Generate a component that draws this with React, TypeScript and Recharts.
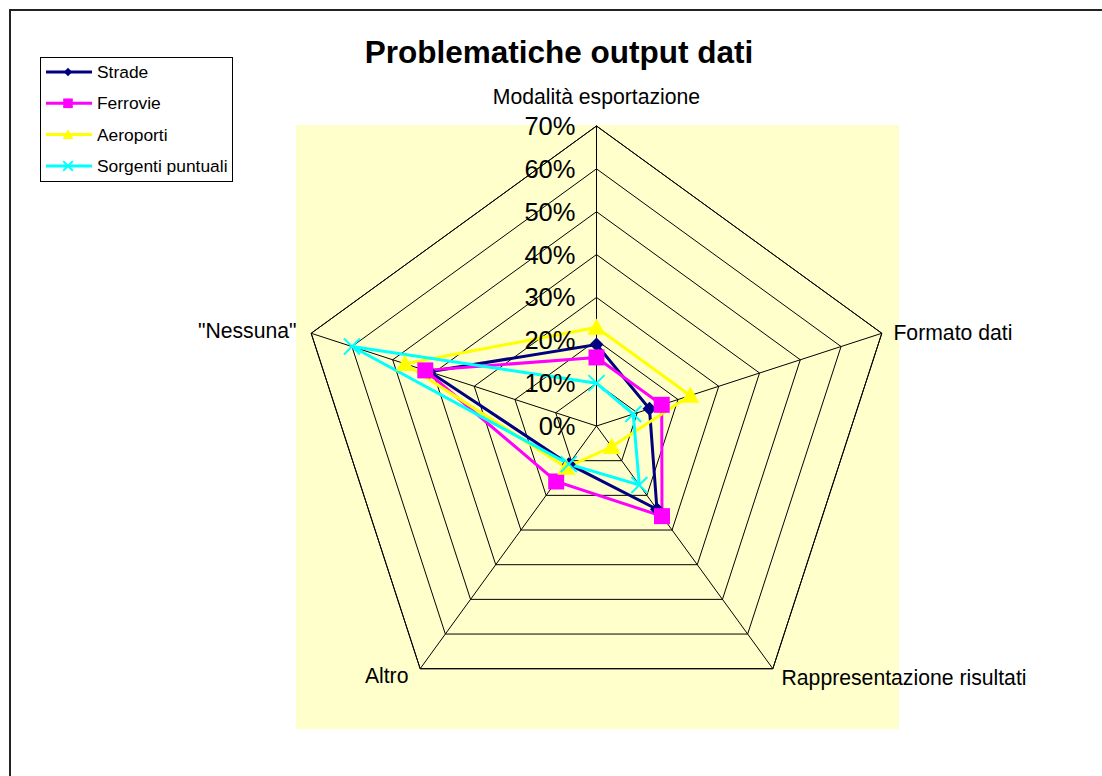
import React from 'react';
import { RadarChart, Radar, PolarGrid, PolarAngleAxis, PolarRadiusAxis, Legend } from 'recharts';

// categories around the radar, clockwise from the top
const categories = [
  'Modalità esportazione',
  'Formato dati',
  'Rappresentazione risultati',
  'Altro',
  '"Nessuna"',
];

// share of answers per category, in percent
const strade = [19, 13, 24, 11, 41];
const ferrovie = [16, 16, 26, 16, 42];
const aeroporti = [23, 23, 6, 12, 47];
const sorgenti = [10, 9, 17, 11, 60];

const radiusTicks = [0, 10, 20, 30, 40, 50, 60, 70];

const seriesNames = ['Strade', 'Ferrovie', 'Aeroporti', 'Sorgenti puntuali'];
const seriesKeys = ['strade', 'ferrovie', 'aeroporti', 'sorgenti'];
const COLORS = ['#000080', '#FF00FF', '#FFFF00', '#00FFFF'];
const MARKERS = ['diamond', 'square', 'triangle', 'cross'];

const data = categories.map((name, i) => ({
  name,
  strade: strade[i],
  ferrovie: ferrovie[i],
  aeroporti: aeroporti[i],
  sorgenti: sorgenti[i],
}));

const FONT = '"Liberation Sans", Arial, sans-serif';

const Marker = ({ type, cx, cy, color, s = 1 }: any) => {
  if (type === 'diamond') {
    const h = 7 * s;
    return <polygon points={`${cx},${cy - h} ${cx + h},${cy} ${cx},${cy + h} ${cx - h},${cy}`} fill={color} />;
  }
  if (type === 'square') {
    const h = 8 * s;
    return <rect x={cx - h} y={cy - h} width={h * 2} height={h * 2} fill={color} />;
  }
  if (type === 'triangle') {
    const h = 9 * s;
    return <polygon points={`${cx},${cy - h} ${cx + h},${cy + h * 0.8} ${cx - h},${cy + h * 0.8}`} fill={color} />;
  }
  const h = 8 * s;
  return (
    <g stroke={color} strokeWidth={2}>
      <line x1={cx - h} y1={cy - h} x2={cx + h} y2={cy + h} />
      <line x1={cx - h} y1={cy + h} x2={cx + h} y2={cy - h} />
    </g>
  );
};

const renderDot = (idx: number) => (props: any) => {
  const { cx, cy, index } = props;
  return <Marker key={`d-${idx}-${index}`} type={MARKERS[idx]} cx={cx} cy={cy} color={COLORS[idx]} />;
};

const renderAngleTick = (props: any) => {
  const { x, y, cx, payload } = props;
  const dx = x - cx;
  let anchor = 'middle';
  let tx = x;
  let ty = y;
  let base: any = 'auto';
  if (Math.abs(dx) < 1) {
    ty = y - 14;
  } else if (dx > 0) {
    anchor = 'start';
    tx = x + 4;
    ty = y + 2;
    base = 'central';
  } else {
    anchor = 'end';
    tx = x - 7;
    ty = y;
    base = 'central';
  }
  return (
    <text x={tx} y={ty} textAnchor={anchor} dominantBaseline={base} fontSize={21.2} fontFamily={FONT} fill="#000">
      {payload.value}
    </text>
  );
};

const renderRadiusTick = (props: any) => {
  const { x, y, payload } = props;
  return (
    <text x={x - 21} y={y} textAnchor="end" dominantBaseline="central" fontSize={25.5} fontFamily={FONT} fill="#000">
      {payload.value}%
    </text>
  );
};

const LegendBox = () => (
  <svg width={194} height={126} style={{ display: 'block' }}>
    <rect x={0.5} y={0.5} width={192} height={124} fill="#fff" stroke="#000" strokeWidth={1} />
    {seriesNames.map((name, i) => {
      const y = 15 + i * 31.3;
      return (
        <g key={name}>
          <line x1={6} y1={y} x2={52} y2={y} stroke={COLORS[i]} strokeWidth={3} />
          <Marker type={MARKERS[i]} cx={28} cy={y} color={COLORS[i]} s={0.6} />
          <text x={57} y={y} dominantBaseline="central" fontSize={17.4} fontFamily={FONT} fill="#000">
            {name}
          </text>
        </g>
      );
    })}
  </svg>
);

export default function App() {
  return (
    <div style={{ position: 'absolute', left: 0, top: 0, width: 1102, height: 776, background: '#fff', overflow: 'hidden' }}>
      <div style={{ position: 'absolute', left: 296, top: 125, width: 603, height: 604, background: '#FFFFCC' }} />
      <svg width={1102} height={776} style={{ position: 'absolute', left: 0, top: 0 }}>
        <rect x={10} y={10} width={1200} height={900} fill="none" stroke="#222" strokeWidth={2} />
        <text x={559} y={63} textAnchor="middle" fontSize={31.5} fontWeight="bold" fontFamily={FONT} fill="#000">
          Problematiche output dati
        </text>
      </svg>
      <div style={{ position: 'absolute', left: 0, top: 0 }}>
        <RadarChart width={1102} height={776} data={data} cx={596.5} cy={426} outerRadius={300} margin={{ top: 0, right: 0, bottom: 0, left: 0 }}>
          <PolarGrid gridType="polygon" stroke="#000" strokeWidth={1} />
          <PolarAngleAxis dataKey="name" tick={renderAngleTick} tickLine={false} axisLine={{ stroke: '#000' }} />
          <PolarRadiusAxis
            type="number"
            angle={90}
            domain={[0, 70]}
            allowDataOverflow
            ticks={radiusTicks}
            tickCount={8}
            axisLine={false}
            tick={renderRadiusTick}
          />
          {seriesKeys.map((key, i) => (
            <Radar
              key={key}
              name={seriesNames[i]}
              dataKey={key}
              stroke={COLORS[i]}
              strokeWidth={3}
              fill="none"
              fillOpacity={0}
              dot={renderDot(i)}
              isAnimationActive={false}
            />
          ))}
          <Legend
            content={() => <LegendBox />}
            wrapperStyle={{ position: 'absolute', left: 40, top: 57, width: 194, height: 126 }}
          />
        </RadarChart>
      </div>
    </div>
  );
}
